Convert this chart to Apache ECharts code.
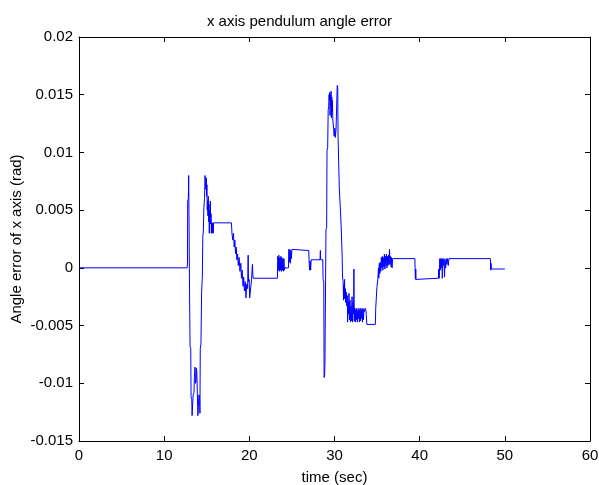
<!DOCTYPE html>
<html>
<head>
<meta charset="utf-8">
<title>x axis pendulum angle error</title>
<script src="https://cdn.jsdelivr.net/npm/echarts@6/dist/echarts.min.js"></script>
<style>
  html, body { margin: 0; padding: 0; background: #ffffff; }
  #chart { width: 599px; height: 485px; }
</style>
</head>
<body>
<div id="chart"></div>
<script>
// Sampled simulation output: time (s) and x-axis pendulum angle error (rad)
const time = [
  0, 12.70, 12.74, 12.76, 12.84, 12.88, 12.94, 12.98, 13.04, 13.12,
  13.16, 13.24, 13.28, 13.36, 13.40, 13.50, 13.55, 13.62, 13.68, 13.74,
  13.78, 13.84, 13.90, 13.96, 14.04, 14.08, 14.16, 14.20, 14.24, 14.32,
  14.40, 14.48, 14.54, 14.60, 14.66, 14.74, 14.80, 14.86, 14.90, 14.94,
  14.98, 15.02, 15.06, 15.10, 15.14, 15.18, 15.22, 15.26, 15.30, 15.34,
  15.38, 15.42, 15.46, 15.50, 15.54, 15.58, 15.64, 15.70, 15.76, 15.80,
  17.90, 17.96, 18.06, 18.14, 18.22, 18.30, 18.38, 18.46, 18.54, 18.62,
  18.70, 18.80, 18.90, 19.00, 19.08, 19.16, 19.26, 19.34, 19.42, 19.52,
  19.60, 19.70, 19.80, 19.86, 19.90, 19.98, 20.04, 20.20, 20.26, 20.36,
  20.44, 23.30, 23.34, 23.40, 23.46, 23.52, 23.58, 23.64, 23.70, 23.76,
  23.82, 23.88, 23.94, 24.00, 24.06, 24.12, 24.18, 24.60, 24.64, 24.70,
  24.76, 24.82, 24.88, 24.94, 25.00, 25.08, 26.98, 27.02, 27.08, 27.14,
  27.20, 27.26, 27.36, 28.30, 28.34, 28.38, 28.62, 28.66, 28.74, 28.78,
  28.84, 28.88, 28.96, 29.00, 29.08, 29.12, 29.20, 29.26, 29.32, 29.36,
  29.40, 29.44, 29.48, 29.52, 29.56, 29.60, 29.64, 29.68, 29.72, 29.76,
  29.80, 29.86, 29.90, 29.96, 30.04, 30.10, 30.18, 30.28, 30.32, 30.38,
  30.42, 30.52, 30.56, 30.74, 30.78, 30.88, 30.90, 30.94, 30.98, 31.02,
  31.06, 31.10, 31.14, 31.18, 31.22, 31.28, 31.32, 31.38, 31.44, 31.50,
  31.54, 31.60, 31.66, 31.70, 31.76, 31.82, 31.88, 31.94, 32.00, 32.06,
  32.12, 32.18, 32.24, 32.28, 32.32, 32.38, 32.44, 32.50, 32.56, 32.62,
  32.68, 32.74, 32.80, 32.86, 32.92, 32.98, 33.04, 33.10, 33.16, 33.22,
  33.28, 33.34, 33.40, 33.46, 33.52, 33.60, 33.70, 33.80, 34.80, 34.84,
  34.92, 34.98, 35.06, 35.10, 35.16, 35.20, 35.26, 35.32, 35.38, 35.44,
  35.50, 35.56, 35.62, 35.68, 35.74, 35.80, 35.86, 35.92, 35.98, 36.04,
  36.10, 36.16, 36.22, 36.28, 36.34, 36.40, 36.46, 36.52, 36.58, 36.64,
  36.70, 36.76, 36.82, 39.44, 39.46, 39.50, 39.54, 39.58, 39.64, 42.20,
  42.24, 42.30, 42.36, 42.42, 42.48, 42.54, 42.60, 42.66, 42.72, 42.78,
  42.86, 42.92, 42.98, 43.06, 43.12, 43.20, 43.28, 43.36, 43.44, 48.30,
  48.34, 48.38, 48.42, 50.00
];

const angleError = [
  0, 0, 0.0005, 0.0058, 0.0060, 0.0080, 0.0080, -0.0020, -0.0068, -0.0070,
  -0.0112, -0.0114, -0.0128, -0.0128, -0.0110, -0.0108, -0.0095, -0.0086, -0.0100, -0.0098,
  -0.0087, -0.0090, -0.0110, -0.0128, -0.0127, -0.0110, -0.0112, -0.0126, -0.0070, -0.0066,
  -0.0020, -0.0008, 0.0028, 0.0031, 0.0052, 0.0060, 0.0080, 0.0079, 0.0068, 0.0078,
  0.0062, 0.0072, 0.0050, 0.0058, 0.0045, 0.0062, 0.0040, 0.0055, 0.0030, 0.0050,
  0.0042, 0.0058, 0.0038, 0.0047, 0.0030, 0.0039, 0.0030, 0.0039, 0.0030, 0.0039,
  0.0039, 0.0030, 0.0024, 0.0030, 0.0018, 0.0024, 0.0012, 0.0018, 0.0007, 0.0012,
  0.0002, 0.0009, -0.0003, 0.0004, -0.0009, -0.0002, -0.0016, -0.0008, -0.0020, -0.0012,
  -0.0026, -0.0014, -0.0018, 0.0011, -0.0012, -0.0010, -0.0026, -0.0026, -0.0010, 0.0003,
  -0.0009, -0.0009, 0.0010, -0.0002, 0.0011, -0.0003, 0.0009, -0.0002, 0.0010, -0.0003,
  0.0009, -0.0002, 0.0008, -0.0003, 0.0008, -0.0002, 0.0000, 0.0000, 0.0016, 0.0005,
  0.0016, 0.0004, 0.0015, 0.0008, 0.0016, 0.0015, 0.0015, 0.0005, -0.0002, 0.0006,
  -0.0002, 0.0007, 0.0007, 0.0007, 0.0015, 0.0007, 0.0007, -0.0010, -0.0012, -0.0095,
  -0.0093, -0.0081, -0.0080, 0.0033, 0.0035, 0.0102, 0.0104, 0.0137, 0.0140, 0.0150,
  0.0145, 0.0152, 0.0132, 0.0150, 0.0140, 0.0153, 0.0130, 0.0148, 0.0135, 0.0145,
  0.0129, 0.0129, 0.0120, 0.0114, 0.0121, 0.0113, 0.0120, 0.0120, 0.0158, 0.0156,
  0.0113, 0.0113, 0.0070, 0.0070, 0.0037, 0.0037, 0.0010, -0.0008, -0.0008, -0.0012,
  -0.0028, -0.0015, -0.0026, -0.0010, -0.0027, -0.0018, -0.0030, -0.0021, -0.0033, -0.0024,
  -0.0047, -0.0030, -0.0040, -0.0022, -0.0045, -0.0028, -0.0047, -0.0033, -0.0046, -0.0025,
  -0.0047, -0.0030, -0.0040, -0.0001, -0.0046, -0.0035, -0.0047, -0.0036, -0.0045, -0.0035,
  -0.0047, -0.0037, -0.0044, -0.0035, -0.0047, -0.0036, -0.0046, -0.0035, -0.0044, -0.0036,
  -0.0047, -0.0035, -0.0045, -0.0036, -0.0038, -0.0035, -0.0037, -0.0049, -0.0049, -0.0035,
  -0.0034, -0.0017, -0.0017, -0.0009, 0.0000, -0.0009, 0.0004, -0.0005, 0.0005, -0.0003,
  0.0009, 0.0000, 0.0010, -0.0002, 0.0009, 0.0001, 0.0012, -0.0001, 0.0010, 0.0002,
  0.0012, 0.0000, 0.0010, 0.0002, 0.0011, 0.0003, 0.0016, 0.0003, 0.0010, 0.0001,
  0.0009, 0.0000, 0.0008, 0.0008, -0.0001, -0.0010, -0.0001, -0.0010, -0.0009, -0.0009,
  -0.0001, -0.0009, 0.0008, -0.0002, 0.0008, 0.0000, 0.0008, -0.0009, 0.0008, 0.0002,
  0.0008, -0.0008, 0.0007, 0.0000, 0.0008, 0.0003, 0.0008, 0.0002, 0.0008, 0.0008,
  -0.0002, 0.0004, -0.0001, -0.0001
];

const xTicks = { min: 0, max: 60, interval: 10 };
const yTicks = { min: -0.015, max: 0.02, interval: 0.005 };

const points = time.map((t, i) => [t, angleError[i]]);

const FONT = '"Liberation Sans", Arial, Helvetica, sans-serif';
const axisLine = { show: true, onZero: false, lineStyle: { color: '#000', width: 1 } };
const axisTick = { show: true, inside: true, length: 5, lineStyle: { color: '#000', width: 1 } };
const fmtY = v => String(parseFloat(v.toFixed(3)));

const chart = echarts.init(document.getElementById('chart'), null, { renderer: 'canvas' });
chart.setOption({
  animation: false,
  backgroundColor: '#ffffff',
  title: {
    text: 'x axis pendulum angle error',
    left: 'center',
    top: 9,
    textStyle: { fontFamily: FONT, fontSize: 15, fontWeight: 'normal', color: '#000' }
  },
  grid: { left: 79, right: 9, top: 37, bottom: 44, containLabel: false, outerBoundsMode: 'none' },
  xAxis: [
    {
      type: 'value',
      position: 'bottom',
      min: xTicks.min, max: xTicks.max, interval: xTicks.interval,
      name: 'time (sec)',
      nameLocation: 'middle',
      nameGap: 29,
      nameMoveOverlap: false,
      nameTextStyle: { fontFamily: FONT, fontSize: 15, color: '#000' },
      axisLine, axisTick,
      axisLabel: { fontFamily: FONT, fontSize: 15, color: '#000', margin: 7 },
      splitLine: { show: false }
    },
    {
      type: 'value',
      position: 'top',
      min: xTicks.min, max: xTicks.max, interval: xTicks.interval,
      axisLine, axisTick,
      axisLabel: { show: false },
      splitLine: { show: false }
    }
  ],
  yAxis: [
    {
      type: 'value',
      position: 'left',
      min: yTicks.min, max: yTicks.max, interval: yTicks.interval,
      name: 'Angle error of x axis (rad)',
      nameLocation: 'middle',
      nameGap: 55,
      nameMoveOverlap: false,
      nameTextStyle: { fontFamily: FONT, fontSize: 15, color: '#000' },
      axisLine, axisTick,
      axisLabel: { fontFamily: FONT, fontSize: 15, color: '#000', margin: 6, formatter: fmtY },
      splitLine: { show: false }
    },
    {
      type: 'value',
      position: 'right',
      min: yTicks.min, max: yTicks.max, interval: yTicks.interval,
      axisLine, axisTick,
      axisLabel: { show: false },
      splitLine: { show: false }
    }
  ],
  series: [
    {
      type: 'line',
      xAxisIndex: 0,
      yAxisIndex: 0,
      data: points,
      showSymbol: false,
      symbol: 'none',
      lineStyle: { color: '#0000ff', width: 1 },
      emphasis: { disabled: true }
    }
  ]
});
</script>
</body>
</html>
